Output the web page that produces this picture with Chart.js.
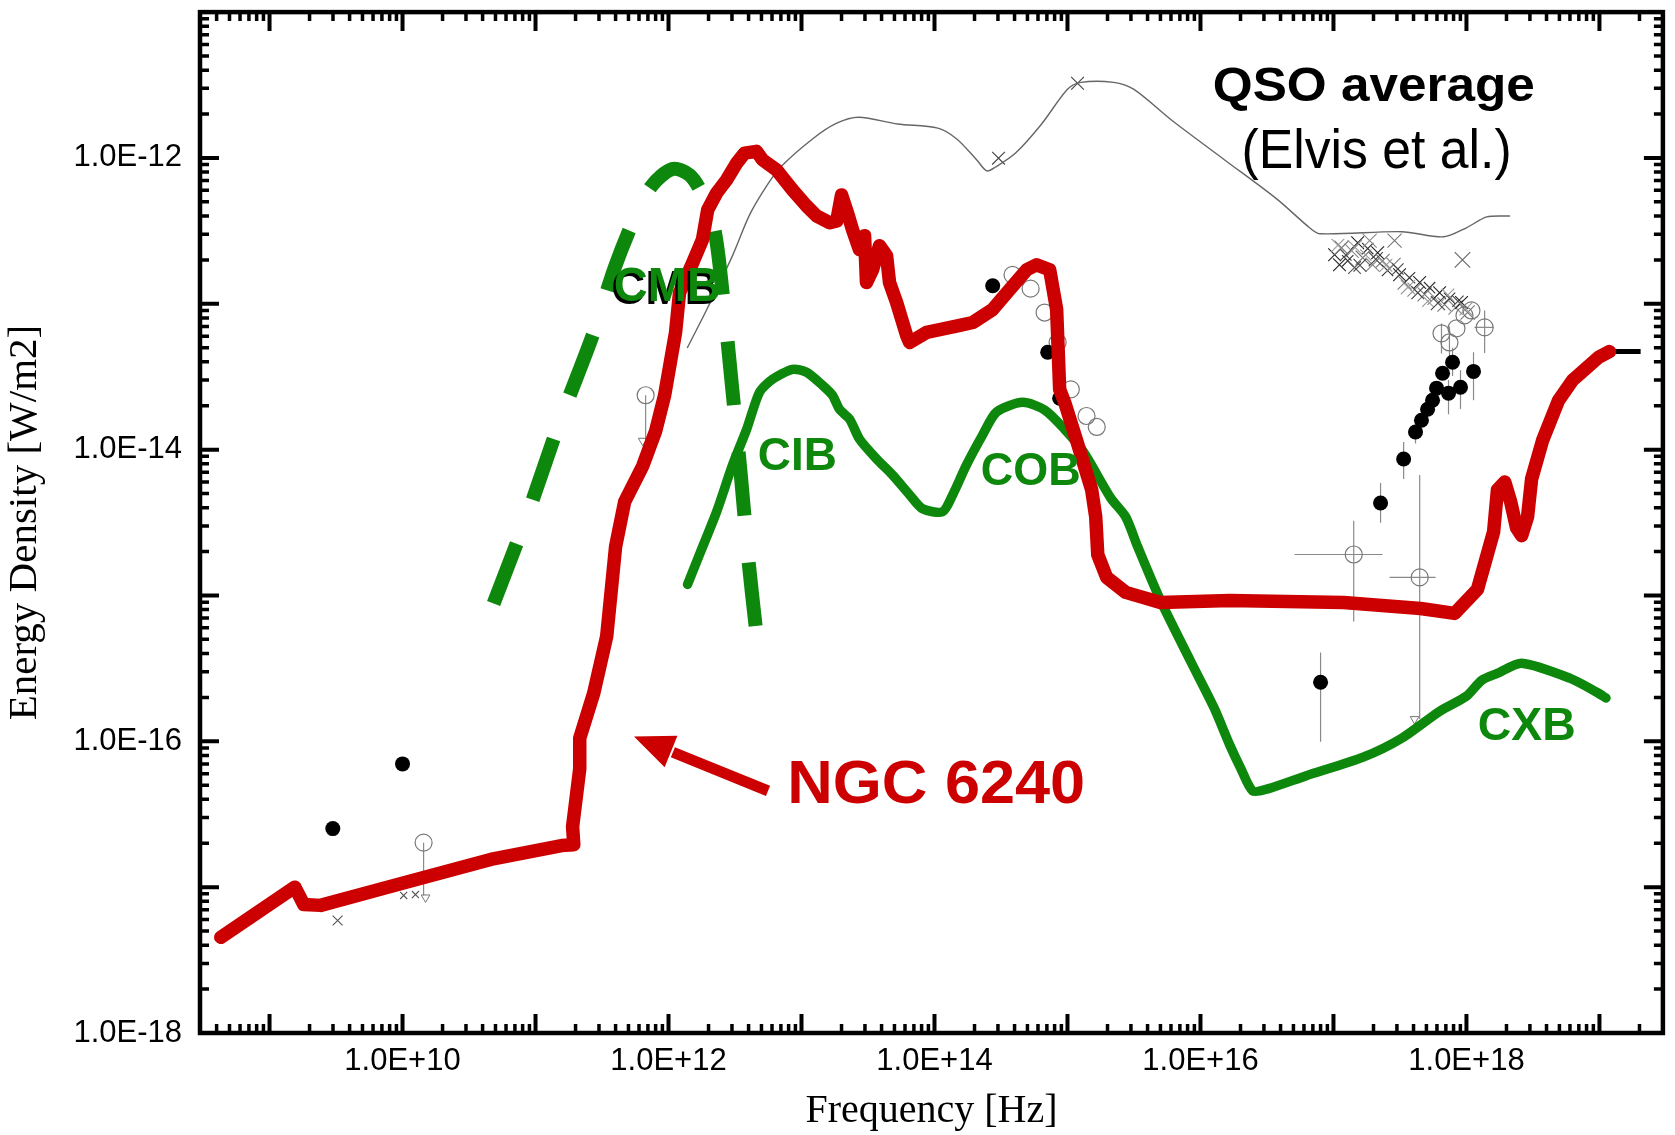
<!DOCTYPE html>
<html><head><meta charset="utf-8">
<script src="https://cdn.jsdelivr.net/npm/chart.js@4.4.1/dist/chart.umd.min.js"></script>
<style>html,body{margin:0;padding:0;background:#fff;}canvas{display:block;}</style>
</head><body>
<canvas id="c" width="1675" height="1135"></canvas>
<script>
// ---------- DATA ----------
const xMin = 3e8, xMax = 3e19, yMin = 1e-18, yMax = 1e-11;
const xLabelTicks = [1e10, 1e12, 1e14, 1e16, 1e18];
const yLabelTicks = [1e-18, 1e-16, 1e-14, 1e-12];

// NGC 6240 SED (red)
const ngcFreq = [4.30e8,1.55e9,1.81e9,2.42e9,9.8e9,4.6e10,1.57e11,1.94e11,1.90e11,2.15e11,2.15e11,2.74e11,3.43e11,4.0e11,4.68e11,6.4e11,8.0e11,9.35e11,1.13e12,1.21e12,1.52e12,1.80e12,1.97e12,2.30e12,2.73e12,3.25e12,3.73e12,4.59e12,5.1e12,6.5e12,8.57e12,1.09e13,1.30e13,1.63e13,1.84e13,2.0e13,2.18e13,2.42e13,2.73e13,2.98e13,3.08e13,3.42e13,3.86e13,4.36e13,4.59e13,5.19e13,6.17e13,6.5e13,8.73e13,1.55e14,1.94e14,2.74e14,3.67e14,4.93e14,5.86e14,7.35e14,8.29e14,8.73e14,9.52e14,1.17e15,1.52e15,1.63e15,1.69e15,1.97e15,2.74e15,5.0e15,1.66e16,1.19e17,4.52e17,8.15e17,1.21e18,1.6e18,1.71e18,1.94e18,2.15e18,2.38e18,2.6e18,2.88e18,3.09e18,3.74e18,4.93e18,6.28e18,9.86e18,1.19e19];
const ngcEnergy = [4.53e-18,1.0e-17,7.6e-18,7.5e-18,1.06e-17,1.55e-17,1.93e-17,1.95e-17,2.6e-17,6.47e-17,1.05e-16,2.14e-16,5.25e-16,2.16e-15,4.39e-15,7.73e-15,1.34e-14,2.36e-14,6.37e-14,1.19e-13,1.91e-13,2.75e-13,4.4e-13,5.75e-13,7.06e-13,9.2e-13,1.08e-12,1.11e-12,9.7e-13,8.27e-13,6.03e-13,4.69e-13,4.0e-13,3.59e-13,3.7e-13,5.58e-13,4.41e-13,3.22e-13,2.35e-13,2.93e-13,1.40e-13,1.71e-13,2.5e-13,2.14e-13,1.40e-13,1.02e-13,6.07e-14,5.43e-14,6.37e-14,7.1e-14,7.44e-14,9.14e-14,1.25e-13,1.71e-13,1.85e-13,1.71e-13,9.14e-14,2.59e-14,2.11e-14,1.16e-14,5.3e-15,3.46e-15,1.9e-15,1.33e-15,1.05e-15,8.95e-16,9.24e-16,8.95e-16,8.14e-16,7.53e-16,1.1e-15,2.73e-15,5.3e-15,6.0e-15,4.39e-15,2.91e-15,2.57e-15,3.46e-15,6.3e-15,1.16e-14,2.18e-14,2.99e-14,4.3e-14,4.7e-14];
// black model tail beyond the red curve
const modelTailFreq = [1.1e19, 2.04e19];
const modelTailEnergy = [4.7e-14, 4.7e-14];

// CIB / COB / CXB background (green solid)
const bgFreq = [1.39e12,1.71e12,2.30e12,3.03e12,3.87e12,4.84e12,6.07e12,8.57e12,1.09e13,1.44e13,1.71e13,1.93e13,2.30e13,2.73e13,3.67e13,4.84e13,6.5e13,8.13e13,1.15e14,1.37e14,1.74e14,2.30e14,2.93e14,4.59e14,6.73e14,9.51e14,1.32e15,2.11e15,2.74e15,3.37e15,5.01e15,8.43e15,1.26e16,1.66e16,2.0e16,2.47e16,3.2e16,6.18e16,1.69e17,3.26e17,6.3e17,1.0e18,1.3e18,1.72e18,2.6e18,5.98e18,9.55e18,1.12e19];
const bgEnergy = [1.19e-15,1.91e-15,3.75e-15,7.85e-15,1.38e-14,2.48e-14,3.04e-14,3.55e-14,3.39e-14,2.76e-14,2.36e-14,1.89e-14,1.62e-14,1.18e-14,8.63e-15,6.7e-15,4.9e-15,3.93e-15,3.75e-15,4.9e-15,7.85e-15,1.26e-14,1.81e-14,2.11e-14,1.87e-14,1.38e-14,9.64e-15,4.67e-15,3.46e-15,2.16e-15,9.24e-16,3.54e-16,1.71e-16,9.44e-17,6.58e-17,4.57e-17,4.72e-17,5.79e-17,7.82e-17,1.05e-16,1.61e-16,2.04e-16,2.62e-16,2.93e-16,3.43e-16,2.71e-16,2.17e-16,1.98e-16];

// CMB (green dashed)
const cmbFreq = [4.84e10,8.57e10,1.52e11,2.74e11,3.94e11,5.56e11,7.46e11,1.07e12,1.44e12,1.80e12,2.22e12,2.55e12,2.98e12,3.48e12,4.0e12,4.52e12];
const cmbEnergy = [8.81e-16,3.46e-15,1.55e-14,6.37e-14,1.77e-13,3.88e-13,6.43e-13,8.4e-13,7.64e-13,5.58e-13,3.17e-13,1.19e-13,2.9e-14,7.03e-15,1.71e-15,6.14e-16];

// QSO average (Elvis et al.) thin grey
const qsoFreq = [1.39e12,1.94e12,3.03e12,4.07e12,5.47e12,6.97e12,1.21e13,1.84e13,2.69e13,5.28e13,1.06e14,1.47e14,2.08e14,2.47e14,2.88e14,4.07e14,6.39e14,1.0e15,1.26e15,2.22e15,3.14e15,6.18e15,1.52e16,3.74e16,6.62e16,7.87e16,3.26e17,6.75e17,1.0e18,1.42e18,2.11e18];
const qsoEnergy = [5.02e-14,9.14e-14,2.14e-13,4.07e-13,6.43e-13,8.67e-13,1.35e-12,1.73e-12,1.90e-12,1.71e-12,1.60e-12,1.35e-12,9.69e-13,8.15e-13,8.67e-13,1.08e-12,1.71e-12,2.96e-12,3.3e-12,3.3e-12,2.96e-12,1.79e-12,9.69e-13,5.24e-13,3.32e-13,3.02e-13,3.12e-13,2.88e-13,3.32e-13,3.94e-13,4.0e-13];

// filled black data points
const filledFreq = [2.99e9,1.0e10,2.74e14,7.1e14,8.73e14,8.0e16,2.26e17,3.37e17,4.14e17,4.59e17,5.1e17,5.56e17,5.96e17,6.61e17,7.86e17,7.33e17,9.02e17,1.13e18];
const filledEnergy = [2.52e-17,7.0e-17,1.33e-13,4.65e-14,2.25e-14,2.54e-16,4.31e-15,8.63e-15,1.32e-14,1.59e-14,1.89e-14,2.18e-14,2.64e-14,3.34e-14,3.97e-14,2.44e-14,2.68e-14,3.44e-14];
const filledErrLow = [null,null,null,null,null,9.95e-17,3.15e-15,6.3e-15,1.1e-14,null,null,null,null,null,3.2e-14,1.75e-14,1.9e-14,2.18e-14];
const filledErrHigh = [null,null,null,null,null,4.07e-16,5.91e-15,1.13e-14,1.6e-14,null,null,null,null,null,5.0e-14,3.0e-14,3.5e-14,4.65e-14];

// open circle data points
const openFreq = [1.42e17,4.45e17,6.49e17,7.45e17,8.41e17,9.66e17,1.09e18,1.37e18,3.86e14,5.28e14,6.73e14,8.43e14,1.06e15,1.39e15,1.66e15,1.44e10,6.73e11];
const openEnergy = [1.91e-15,1.33e-15,6.27e-14,5.43e-14,6.78e-14,8.32e-14,9.0e-14,6.89e-14,1.58e-13,1.27e-13,8.71e-14,5.43e-14,2.59e-14,1.7e-14,1.43e-14,2.02e-17,2.36e-14];
const openErrLow = [6.64e-16,1.42e-16,4.57e-14,4.0e-14,null,null,null,4.6e-14,null,null,null,null,null,null,null,8.77e-18,1.13e-14];
const openErrHigh = [3.25e-15,6.7e-15,7.33e-14,7.0e-14,null,null,null,9.0e-14,null,null,null,null,null,null,null,null,null];
const openFreqLow = [5.09e16,2.64e17,null,null,null,null,null,1.15e18,null,null,null,null,null,null,null,null,null];
const openFreqHigh = [2.34e17,5.86e17,null,null,null,null,null,1.6e18,null,null,null,null,null,null,null,null,null];

// x-shaped data points
const crossFreq = [3.25e9,1.02e10,1.25e10,1.19e15,3.03e14,9.33e17,
  1.02e17,1.15e17,1.28e17,1.37e17,1.52e17,1.66e17,1.81e17,1.97e17,2.15e17,2.34e17,2.55e17,2.83e17,3.14e17,3.43e17,3.73e17,4.07e17,4.45e17,4.84e17,5.28e17,5.76e17,6.28e17,6.84e17,7.46e17,8.28e17,9.18e17,1.02e18,2.88e17,1.11e17,1.44e17,1.87e17,
  1.08e17,1.24e17,1.45e17,1.58e17,1.75e17,2.08e17,2.48e17,3.05e17,3.63e17,4.31e17,5.13e17,6.1e17,7.25e17,8.63e17,9.9e17];
const crossEnergy = [5.91e-18,8.77e-18,8.9e-18,3.25e-12,9.97e-13,2.0e-13,
  2.17e-13,2.42e-13,1.97e-13,2.31e-13,2.62e-13,2.07e-13,2.39e-13,1.85e-13,2.24e-13,1.97e-13,1.69e-13,1.85e-13,1.58e-13,1.40e-13,1.51e-13,1.25e-13,1.40e-13,1.16e-13,1.29e-13,1.10e-13,1.19e-13,9.89e-14,1.09e-13,9.42e-14,1.02e-13,8.71e-14,2.71e-13,1.85e-13,1.77e-13,2.71e-13,
  2.52e-13,2.16e-13,2.44e-13,1.84e-13,2.16e-13,2.02e-13,1.84e-13,1.73e-13,1.30e-13,1.19e-13,1.04e-13,1.01e-13,1.15e-13,1.04e-13,9.22e-14];
const crossSize = [7,5,5,9,9,11,
  9,10,8,10,9,10,8,10,9,10,8,10,9,10,8,10,9,10,8,10,9,10,8,10,9,10,10,9,9,10,
  9,8,10,9,8,10,9,8,10,9,8,10,9,8,9];
const crossShade = ['#555','#555','#555','#444','#444','#666',
  '#222','#777','#333','#888','#222','#666','#333','#888','#222','#777','#333','#888','#222','#777','#333','#888','#222','#777','#333','#888','#222','#777','#333','#888','#222','#777','#777','#222','#555','#888',
  '#999','#444','#999','#444','#999','#444','#999','#444','#999','#444','#999','#444','#999','#444','#999'];

// upper-limit triangles
const limitFreq = [1.49e10,6.4e11,4.07e17];
const limitEnergy = [8.5e-18,1.15e-14,1.42e-16];

// ---------- STYLE ----------
const GREEN = '#0d880d', RED = '#cc0000';
const toXY = (xs, ys) => xs.map((x, i) => ({x: x, y: ys[i]}));
function fmtExp(v) {
  const e = Math.round(Math.log10(v));
  const a = Math.abs(e);
  return '1.0E' + (e < 0 ? '-' : '+') + (a < 10 ? '0' + a : a);
}

const annotations = [
  {text: 'QSO average', x: 2.01e17, y: 2.47e-12, font: 'bold 49px "Liberation Sans", Arial, sans-serif', color: '#000', width: 322},
  {text: '(Elvis et al.)', x: 2.11e17, y: 8.47e-13, font: '55px "Liberation Sans", Arial, sans-serif', color: '#000', width: 270},
  {text: 'CMB', x: 9.8e11, y: 1.04e-13, font: 'bold 49px "Liberation Sans", Arial, sans-serif', color: GREEN, width: 107, shadow: '#000'},
  {text: 'CIB', x: 9.3e12, y: 7.3e-15, font: 'bold 47px "Liberation Sans", Arial, sans-serif', color: GREEN, width: 79},
  {text: 'COB', x: 5.3e14, y: 5.7e-15, font: 'bold 47px "Liberation Sans", Arial, sans-serif', color: GREEN, width: 100},
  {text: 'CXB', x: 2.84e18, y: 1.02e-16, font: 'bold 46px "Liberation Sans", Arial, sans-serif', color: GREEN, width: 98},
  {text: 'NGC 6240', x: 1.03e14, y: 3.78e-17, font: 'bold 62px "Liberation Sans", Arial, sans-serif', color: RED, width: 298}
];
const arrowTip = {x: 5.5e11, y: 1.08e-16};
const arrowTail = {x: 5.6e12, y: 4.57e-17};

// ---------- PLUGINS ----------
const errorBars = {
  id: 'errorBars',
  beforeDatasetsDraw(chart) {
    const ctx = chart.ctx, xs = chart.scales.x, ys = chart.scales.y;
    ctx.save();
    ctx.strokeStyle = '#8a8a8a';
    ctx.lineWidth = 1.2;
    chart.data.datasets.forEach(ds => {
      if (!ds.errLow) return;
      ds.data.forEach((p, i) => {
        const px = xs.getPixelForValue(p.x), py = ys.getPixelForValue(p.y);
        const lo = ds.errLow[i], hi = ds.errHigh ? ds.errHigh[i] : null;
        ctx.beginPath();
        if (lo) { ctx.moveTo(px, py); ctx.lineTo(px, ys.getPixelForValue(lo)); }
        if (hi) { ctx.moveTo(px, py); ctx.lineTo(px, ys.getPixelForValue(hi)); }
        if (ds.xLow && ds.xLow[i]) { ctx.moveTo(xs.getPixelForValue(ds.xLow[i]), py); ctx.lineTo(xs.getPixelForValue(ds.xHigh[i]), py); }
        ctx.stroke();
      });
    });
    ctx.restore();
  }
};

const frameTicks = {
  id: 'frameTicks',
  afterDatasetsDraw(chart) {
    const ctx = chart.ctx, a = chart.chartArea, xs = chart.scales.x, ys = chart.scales.y;
    ctx.save();
    ctx.strokeStyle = '#000';
    ctx.lineCap = 'butt';
    const major = 19, minor = 9;
    for (let n = 8; n <= 19; n++) {
      for (let m = 1; m <= 9; m++) {
        const v = m * Math.pow(10, n);
        if (v < xMin || v > xMax) continue;
        const px = xs.getPixelForValue(v);
        const L = m === 1 ? major : minor;
        ctx.lineWidth = m === 1 ? 4 : 3.5;
        ctx.beginPath();
        ctx.moveTo(px, a.bottom); ctx.lineTo(px, a.bottom - L);
        ctx.moveTo(px, a.top); ctx.lineTo(px, a.top + L);
        ctx.stroke();
      }
    }
    for (let n = -18; n <= -11; n++) {
      for (let m = 1; m <= 9; m++) {
        const v = m * Math.pow(10, n);
        if (v < yMin * 0.999 || v > yMax * 1.001) continue;
        const py = ys.getPixelForValue(v);
        const L = m === 1 ? major : minor;
        ctx.lineWidth = m === 1 ? 4 : 3.5;
        ctx.beginPath();
        ctx.moveTo(a.left, py); ctx.lineTo(a.left + L, py);
        ctx.moveTo(a.right, py); ctx.lineTo(a.right - L, py);
        ctx.stroke();
      }
    }
    ctx.lineWidth = 4.5;
    ctx.strokeRect(a.left, a.top, a.right - a.left, a.bottom - a.top);
    ctx.restore();
  }
};

const labels = {
  id: 'labels',
  afterDraw(chart) {
    const ctx = chart.ctx, xs = chart.scales.x, ys = chart.scales.y;
    annotations.forEach(t => {
      const x = xs.getPixelForValue(t.x), y = ys.getPixelForValue(t.y);
      ctx.save();
      ctx.font = t.font;
      const w = ctx.measureText(t.text).width;
      const sx = t.width / w;
      ctx.translate(x, y);
      ctx.scale(sx, 1);
      ctx.textAlign = 'center';
      ctx.textBaseline = 'alphabetic';
      if (t.shadow) { ctx.fillStyle = t.shadow; ctx.fillText(t.text, -2.5 / sx, 2.5); }
      ctx.fillStyle = t.color;
      ctx.fillText(t.text, 0, 0);
      ctx.restore();
    });
    // arrow
    const tx = xs.getPixelForValue(arrowTip.x), ty = ys.getPixelForValue(arrowTip.y);
    const bx = xs.getPixelForValue(arrowTail.x), by = ys.getPixelForValue(arrowTail.y);
    const dx = bx - tx, dy = by - ty, len = Math.hypot(dx, dy);
    const ux = dx / len, uy = dy / len;
    const headL = 40, headW = 17;
    const cx = tx + ux * headL, cy = ty + uy * headL;
    ctx.save();
    ctx.strokeStyle = RED; ctx.fillStyle = RED;
    ctx.lineWidth = 11; ctx.lineCap = 'butt';
    ctx.beginPath(); ctx.moveTo(bx, by); ctx.lineTo(cx + ux * 2, cy + uy * 2); ctx.stroke();
    ctx.beginPath();
    ctx.moveTo(tx, ty);
    ctx.lineTo(cx - uy * headW, cy + ux * headW);
    ctx.lineTo(cx + uy * headW, cy - ux * headW);
    ctx.closePath(); ctx.fill();
    ctx.restore();
  }
};

// ---------- CHART ----------
const lineDs = (label, xs, ys, color, width, extra) => Object.assign({
  label, data: toXY(xs, ys), showLine: true, pointRadius: 0, borderColor: color,
  backgroundColor: color, borderWidth: width, borderCapStyle: 'round', borderJoinStyle: 'round',
  tension: 0, fill: false
}, extra || {});

function noPad(s) { s.paddingTop = 0; s.paddingBottom = 0; s.paddingLeft = 0; s.paddingRight = 0; }

new Chart(document.getElementById('c'), {
  type: 'scatter',
  data: {
    datasets: [
      lineDs('NGC 6240', ngcFreq, ngcEnergy, RED, 13.5, {order: 1}),
      lineDs('Model', modelTailFreq, modelTailEnergy, '#000', 5, {order: 2, borderCapStyle: 'butt'}),
      lineDs('CIB/COB/CXB', bgFreq, bgEnergy, GREEN, 9.5, {order: 3, tension: 0.25}),
      lineDs('CMB', cmbFreq, cmbEnergy, GREEN, 14, {order: 4, tension: 0.3, borderDash: [64, 47], borderCapStyle: 'butt', borderJoinStyle: 'miter'}),
      lineDs('QSO average', qsoFreq, qsoEnergy, '#666', 1.4, {order: 5, tension: 0.3}),
      {label: 'filled', data: toXY(filledFreq, filledEnergy), errLow: filledErrLow, errHigh: filledErrHigh,
       pointStyle: 'circle', pointRadius: 7.5, backgroundColor: '#000', borderColor: '#000', borderWidth: 0, order: 6},
      {label: 'open', data: toXY(openFreq, openEnergy), errLow: openErrLow, errHigh: openErrHigh, xLow: openFreqLow, xHigh: openFreqHigh,
       pointStyle: 'circle', pointRadius: 8.5, backgroundColor: 'rgba(0,0,0,0)', borderColor: '#777', borderWidth: 1.2, order: 7},
      {label: 'cross', data: toXY(crossFreq, crossEnergy), pointStyle: 'crossRot', pointRadius: crossSize,
       borderColor: crossShade, backgroundColor: crossShade, borderWidth: 1.1, order: 8},
      {label: 'limits', data: toXY(limitFreq, limitEnergy), pointStyle: 'triangle', rotation: 180, pointRadius: 5,
       borderColor: '#777', backgroundColor: 'rgba(0,0,0,0)', borderWidth: 1, order: 9}
    ]
  },
  options: {
    responsive: false,
    animation: false,
    devicePixelRatio: 1,
    events: [],
    layout: {padding: {left: 0, right: 12, top: 8, bottom: 0}},
    plugins: {legend: {display: false}, tooltip: {enabled: false}},
    scales: {
      x: {
        type: 'logarithmic', position: 'bottom', min: xMin, max: xMax,
        grid: {display: false, drawTicks: false}, border: {display: false},
        afterBuildTicks: s => { s.ticks = xLabelTicks.map(v => ({value: v})); },
        afterFit: s => { s.height = 102; noPad(s); },
        ticks: {autoSkip: false, maxRotation: 0, minRotation: 0, padding: 10, color: '#000',
                font: {family: '"Liberation Sans", Arial, sans-serif', size: 31},
                callback: v => fmtExp(v)},
        title: {display: true, text: 'Frequency [Hz]', color: '#000', padding: {top: 0, bottom: 0},
                font: {family: '"Liberation Serif", "Times New Roman", serif', size: 40, lineHeight: 1.2}}
      },
      y: {
        type: 'logarithmic', position: 'left', min: yMin, max: yMax,
        grid: {display: false, drawTicks: false}, border: {display: false},
        afterBuildTicks: s => { s.ticks = yLabelTicks.map(v => ({value: v})); },
        afterFit: s => { s.width = 200; noPad(s); },
        ticks: {autoSkip: false, padding: 18, color: '#000',
                font: {family: '"Liberation Sans", Arial, sans-serif', size: 31},
                callback: v => fmtExp(v)},
        title: {display: true, text: 'Energy Density [W/m2]', color: '#000', padding: {top: 1, bottom: 0},
                font: {family: '"Liberation Serif", "Times New Roman", serif', size: 41, lineHeight: 1.2}}
      }
    }
  },
  plugins: [errorBars, frameTicks, labels]
});
</script>
</body></html>
